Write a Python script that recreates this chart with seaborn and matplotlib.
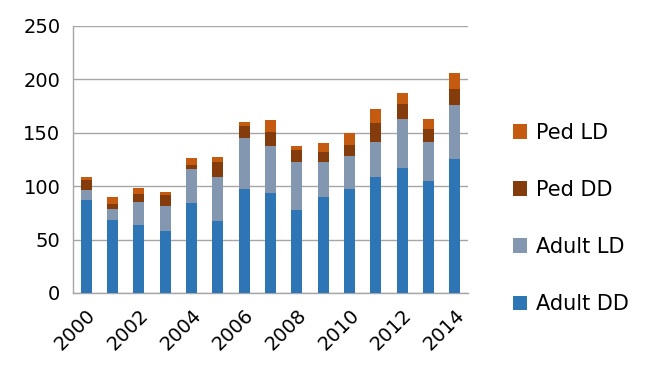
import numpy as np
import pandas as pd
import seaborn as sns
import matplotlib.pyplot as plt

# Values
years = [str(y) for y in range(2000, 2015)]
adult_dd = [87, 68, 64, 58, 84, 67, 97, 94, 78, 90, 97, 109, 117, 105, 125]
adult_ld = [9, 11, 21, 23, 32, 42, 48, 44, 45, 33, 31, 32, 46, 36, 51]
ped_dd = [10, 4, 8, 11, 4, 14, 11, 13, 11, 9, 11, 18, 14, 13, 15]
ped_ld = [3, 7, 5, 3, 6, 4, 4, 11, 4, 8, 11, 13, 10, 9, 15]

series = ['Adult DD', 'Adult LD', 'Ped DD', 'Ped LD']
colors = {'Adult DD': '#2E75B6', 'Adult LD': '#8497B0',
          'Ped DD': '#843C0C', 'Ped LD': '#C55A11'}

df = pd.DataFrame({'year': years, 'Adult DD': adult_dd, 'Adult LD': adult_ld,
                   'Ped DD': ped_dd, 'Ped LD': ped_ld})
# cumulative heights, so each layer can be drawn over the one above it
cum = df[series].cumsum(axis=1)

sns.set_style('white')
plt.rcParams['font.family'] = ['DejaVu Sans']
plt.rcParams['text.color'] = 'black'
plt.rcParams['xtick.color'] = 'black'
plt.rcParams['ytick.color'] = 'black'

fig = plt.figure(figsize=(6.5, 3.8), dpi=100)
ax = fig.add_axes([0.1123, 0.229, 0.6077, 0.7026])

# draw tallest (total) first, then smaller stacks on top of it
for name in reversed(series):
    sns.barplot(x=df['year'], y=cum[name], color=colors[name], width=0.42,
                saturation=1, errorbar=None, label=name, ax=ax, zorder=3,
                linewidth=0)

ax.set_ylim(0, 250)
ax.set_yticks(range(0, 251, 50))
ax.set_xlim(-0.5, 14.5)
ax.yaxis.grid(True, color='#A6A6A6', linewidth=1, zorder=0)
ax.set_axisbelow(True)
ax.set_xlabel('')
ax.set_ylabel('')

ax.set_xticks(range(0, 15, 2))
ax.set_xticklabels(years[::2], rotation=45, ha='right', rotation_mode='anchor',
                   fontsize=14)
ax.set_xticks(np.arange(-0.5, 15, 1), minor=True)
ax.tick_params(axis='x', which='major', length=0, pad=9, labelcolor='black')
ax.tick_params(axis='x', which='minor', length=6, color='#A6A6A6', width=1)
ax.tick_params(axis='y', length=5, color='#A6A6A6', width=1, labelsize=14, pad=4,
               labelcolor='black')

for side in ['top', 'right']:
    ax.spines[side].set_visible(False)
for side in ['left', 'bottom']:
    ax.spines[side].set_color('#A6A6A6')
    ax.spines[side].set_linewidth(1)

handles, labels = ax.get_legend_handles_labels()
leg = ax.legend(handles, labels, loc='center left', bbox_to_anchor=(494 / 650, 0.425),
                bbox_transform=fig.transFigure, frameon=False, fontsize=15,
                handlelength=0.7, handleheight=0.7, handletextpad=0.4,
                labelspacing=1.78, borderpad=0.4)
for t in leg.get_texts():
    t.set_color('black')

fig.savefig('out.png', dpi=100)
